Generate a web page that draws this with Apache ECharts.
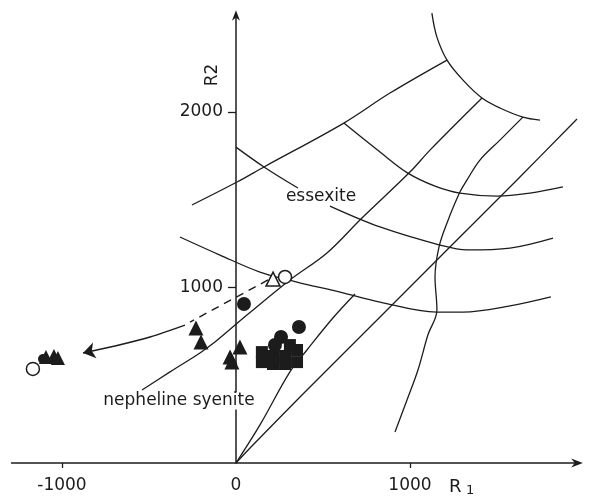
<!DOCTYPE html>
<html>
<head>
<meta charset="utf-8">
<script src="https://cdn.jsdelivr.net/npm/echarts@6/dist/echarts.min.js"></script>
<style>
  html, body { margin: 0; padding: 0; background: #fff; }
  #chart { width: 590px; height: 497px; }
</style>
</head>
<body>
<div id="chart"></div>
<script>
// R1–R2 multicationic diagram: field boundaries, sample points and trend

// axis ticks
const r1TickLabels = [-1000, 0, 1000];
const r1TickMarks = [-1000, 1000];
const r2TickLabels = [1000, 2000];

// field boundaries, [R1, R2] pairs
const boundaryUpper = [[-253, 1470], [6, 1601], [161, 1687], [620, 1937], [885, 2108], [1213, 2296]];
const boundaryArc = [[1126, 2564], [1155, 2427], [1213, 2296], [1305, 2182], [1414, 2080], [1517, 2023], [1649, 1971], [1747, 1954]];
const boundaryUpperMid = [[620, 1937], [828, 1772], [988, 1652], [1144, 1578], [1287, 1538], [1500, 1521], [1690, 1538], [1879, 1573]];
const boundaryOblique = [[-540, 416], [-379, 519], [-207, 627], [-121, 689], [63, 843], [310, 1043], [523, 1197], [724, 1396], [1000, 1658], [1115, 1783], [1414, 2080]];
const boundarySteep = [[1649, 1971], [1517, 1840], [1402, 1726], [1328, 1613], [1287, 1544], [1213, 1368], [1167, 1231], [1144, 1060], [1155, 872], [1103, 729], [1046, 530], [983, 359], [914, 177]];
const boundaryDiagonal = [[0, 0], [92, 97], [368, 376], [828, 832], [1201, 1202], [1615, 1613], [1960, 1960]];
const boundaryInner = [[0, 0], [138, 217], [310, 519], [408, 644], [557, 826], [684, 963]];
const boundaryMidLeft = [[0, 1800], [161, 1687], [356, 1567]];
const boundaryMidRight = [[540, 1464], [828, 1345], [1172, 1242], [1328, 1214], [1575, 1225], [1822, 1282]];
const boundaryLower = [[-322, 1288], [-92, 1185], [138, 1088], [351, 1031], [598, 974], [828, 917], [1155, 860], [1305, 860], [1575, 895], [1810, 946]];

// differentiation trend: dashed part, curved tail and its arrow tip
const trendDashed = [[184, 1043], [-264, 803]];
const trendTail = [[-293, 786], [-494, 718], [-695, 667]];
const trendTip = [[-695, 667], [-879, 627]];

// samples
const filledTriangles = [[-230, 769], [-201, 689], [23, 661], [-34, 604], [-23, 575]];
const filledTrianglesFar = [[-1092, 604], [-1046, 610], [-1023, 598]];
const filledCircles = [[46, 906], [259, 718], [224, 672], [362, 775]];
const filledCirclesFar = [[-1109, 593]];
const filledSquares = [[149, 632], [149, 575], [213, 610], [213, 564], [282, 610], [282, 564], [351, 644], [351, 575], [310, 672]];
const openTriangles = [[213, 1048]];
const openCircles = [[282, 1060], [-1167, 536]];

const ink = '#1c1c1c';
const fontFamily = 'DejaVu Sans';
const arrowHead = 'path://M5,0 L10,13 L5,9 L0,13 Z';

const xMin = -1290, xMax = 1960, yMin = 0, yMax = 2550;
const gridLeft = 11.5, gridTop = 15.5, gridWidth = 565.5, gridHeight = 447.5;
// shift the R2 axis from the grid edge to R1 = 0
const yAxisShift = -gridWidth * (0 - xMin) / (xMax - xMin);

function boundary(data) {
  return {
    type: 'line', data: data, symbol: 'none', smooth: 0.35, clip: false, silent: true,
    lineStyle: { color: ink, width: 1.3 }, z: 2
  };
}

function samples(data, symbol, size, hollow) {
  return {
    type: 'scatter', data: data, symbol: symbol, symbolSize: size, silent: true, z: hollow ? 6 : 5,
    itemStyle: hollow
      ? { color: '#fff', borderColor: ink, borderWidth: 1.5, opacity: 1 }
      : { color: ink, opacity: 1 }
  };
}

const plainNumber = v => String(v);

const chart = echarts.init(document.getElementById('chart'));
chart.setOption({
  animation: false,
  backgroundColor: '#fff',
  grid: { left: gridLeft, top: gridTop, width: gridWidth, height: gridHeight, outerBoundsMode: 'none', containLabel: false },
  xAxis: {
    type: 'value', min: xMin, max: xMax,
    splitLine: { show: false },
    axisLine: { onZero: false, lineStyle: { color: ink, width: 1.5 }, symbol: ['none', arrowHead], symbolSize: [9, 13] },
    axisTick: { show: true, customValues: r1TickMarks, length: 5, lineStyle: { color: ink, width: 1.3 } },
    axisLabel: { customValues: r1TickLabels, formatter: plainNumber, fontFamily: fontFamily, fontSize: 17, color: ink, margin: 14 }
  },
  yAxis: {
    type: 'value', min: yMin, max: yMax, offset: yAxisShift,
    splitLine: { show: false },
    axisLine: { onZero: false, lineStyle: { color: ink, width: 1.5 }, symbol: ['none', arrowHead], symbolSize: [8, 13] },
    axisTick: { show: true, customValues: r2TickLabels, length: 8, lineStyle: { color: ink, width: 1.3 } },
    axisLabel: { customValues: r2TickLabels, formatter: plainNumber, fontFamily: fontFamily, fontSize: 17, color: ink, margin: 13 }
  },
  series: [
    boundary(boundaryUpper),
    boundary(boundaryArc),
    boundary(boundaryUpperMid),
    boundary(boundaryOblique),
    boundary(boundarySteep),
    boundary(boundaryDiagonal),
    boundary(boundaryInner),
    boundary(boundaryMidLeft),
    boundary(boundaryMidRight),
    boundary(boundaryLower),
    {
      type: 'line', data: trendDashed, symbol: 'none', silent: true, z: 3,
      lineStyle: { color: ink, width: 1.4, type: [8, 6] }
    },
    {
      type: 'line', data: trendTail, symbol: 'none', smooth: 0.3, silent: true, z: 3,
      lineStyle: { color: ink, width: 1.4 }
    },
    {
      type: 'lines', coordinateSystem: 'cartesian2d', silent: true, z: 3,
      symbol: ['none', 'arrow'], symbolSize: 12,
      data: [{ coords: trendTip }],
      lineStyle: { color: ink, width: 1.4, opacity: 1, curveness: 0 },
      itemStyle: { color: ink }
    },
    samples(filledCircles, 'circle', 14, false),
    samples(filledCirclesFar, 'circle', 10, false),
    samples(filledSquares, 'rect', 12, false),
    samples(filledTriangles, 'triangle', 15, false),
    samples(filledTrianglesFar, 'triangle', 14, false),
    samples(openTriangles, 'triangle', 14, true),
    samples(openCircles, 'circle', 13, true)
  ],
  graphic: [
    {
      type: 'text', x: 321, y: 197, z: 100,
      style: { text: 'essexite', font: '17px "DejaVu Sans"', fill: ink, align: 'center', verticalAlign: 'middle', textAlign: 'center', textVerticalAlign: 'middle' }
    },
    {
      type: 'text', x: 179, y: 401, z: 100,
      style: { text: 'nepheline syenite', font: '17px "DejaVu Sans"', fill: ink, backgroundColor: '#fff', padding: [0, 1], align: 'center', verticalAlign: 'middle', textAlign: 'center', textVerticalAlign: 'middle' }
    },
    {
      type: 'text', x: 449, y: 487, z: 100,
      style: { text: 'R', font: '18px "DejaVu Sans"', fill: ink, align: 'left', verticalAlign: 'middle', textAlign: 'left', textVerticalAlign: 'middle' }
    },
    {
      type: 'text', x: 466, y: 491, z: 100,
      style: { text: '1', font: '13px "DejaVu Sans"', fill: ink, align: 'left', verticalAlign: 'middle', textAlign: 'left', textVerticalAlign: 'middle' }
    },
    {
      type: 'text', x: 213, y: 75, rotation: Math.PI / 2, z: 100,
      style: { text: 'R2', font: '17px "DejaVu Sans"', fill: ink, align: 'center', verticalAlign: 'middle', textAlign: 'center', textVerticalAlign: 'middle' }
    }
  ]
});
</script>
</body>
</html>
